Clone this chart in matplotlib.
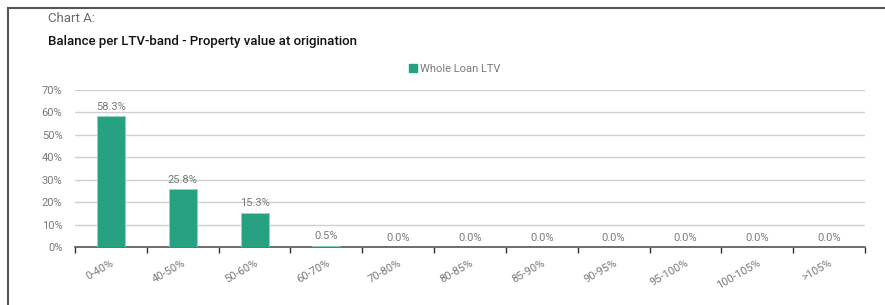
import matplotlib
matplotlib.use("Agg")
import matplotlib.pyplot as plt
from matplotlib.lines import Line2D
from matplotlib.patches import Patch
import numpy as np

categories = ["0-40%", "40-50%", "50-60%", "60-70%", "70-80%", "80-85%", "85-90%",
              "90-95%", "95-100%", "100-105%", ">105%"]
values = [58.3, 25.8, 15.3, 0.5, 0.0, 0.0, 0.0, 0.0, 0.0, 0.0, 0.0]
yticks = [0, 10, 20, 30, 40, 50, 60, 70]
series_name = "Whole Loan LTV"

plt.rcParams['font.family'] = ['Roboto', 'DejaVu Sans']
bar_color = "#26a282"
grey = "#7a7a7a"

fig = plt.figure(figsize=(8.85, 3.05), dpi=100)
ax = fig.add_axes([75/885, 1-247/305, (865-75)/885, (247-90)/305])

x = np.arange(len(categories))
ax.bar(x, values, width=0.39, color=bar_color, edgecolor="#8fd8c2", linewidth=0.6, zorder=3)
for xi, v in zip(x, values):
    ax.text(xi, v + 2.0, f"{v:.1f}%", ha="center", va="bottom", fontsize=8, color=grey)

ax.set_xlim(-0.5, len(categories) - 0.5)
ax.set_ylim(0, 70)
ax.set_yticks(yticks)
ax.set_yticklabels([f"{t}%" for t in yticks], fontsize=8, color=grey)
ax.tick_params(axis="y", length=0, pad=9)
ax.grid(axis="y", color="#d0d0d0", linewidth=1.0, zorder=0)
ax.set_axisbelow(True)

ax.set_xticks(x)
ax.set_xticklabels(categories, rotation=30, fontsize=8, color=grey, ha="right",
                   rotation_mode="anchor")
ax.tick_params(axis="x", length=0, pad=8)
ax.set_xticks(np.arange(len(categories) + 1) - 0.5, minor=True)
ax.tick_params(axis="x", which="minor", length=4, width=1.0, color="#333333")

for s in ["top", "right", "left"]:
    ax.spines[s].set_visible(False)
ax.spines["bottom"].set_color("#555555")
ax.spines["bottom"].set_linewidth(1.2)

# Legend
fig.legend(handles=[Patch(color=bar_color, label=series_name)], loc="center",
           bbox_to_anchor=(455/885, 1-69/305), frameon=False, fontsize=8,
           handlelength=0.7, handleheight=0.7, handletextpad=0.3,
           labelcolor=grey)

# Titles
fig.text(48/885, 1-19/305, "Chart A:", fontsize=9.5, color="#6a6a6a", va="center", ha="left")
fig.text(48/885, 1-42/305, "Balance per LTV-band - Property value at origination",
         fontsize=9.5, color="#111111", va="center", ha="left", fontweight="medium")

# Frame lines
fig.add_artist(Line2D([8/885, 8/885], [0, 1-8/305], color="#555555", linewidth=1.5,
                      transform=fig.transFigure))
fig.add_artist(Line2D([8/885, 884/885], [1-8/305, 1-8/305], color="#555555", linewidth=1.5,
                      transform=fig.transFigure))

fig.savefig("out.png", dpi=100)
